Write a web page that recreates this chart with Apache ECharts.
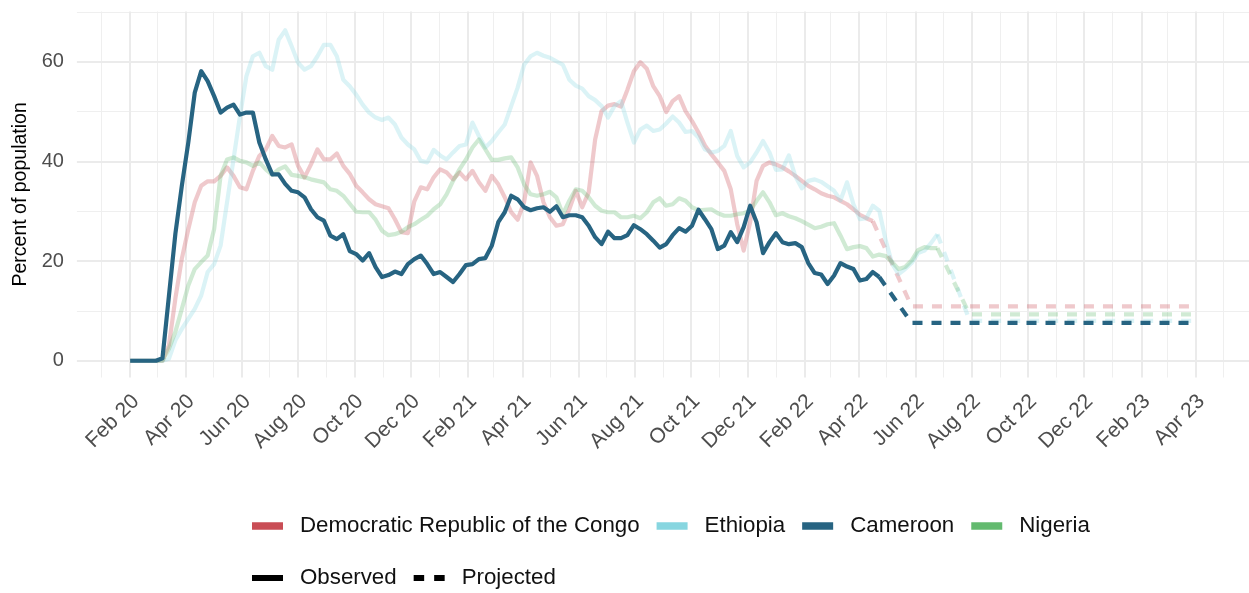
<!DOCTYPE html>
<html>
<head>
<meta charset="utf-8">
<script src="https://cdn.jsdelivr.net/npm/echarts@6/dist/echarts.min.js"></script>
<style>html,body{margin:0;padding:0;background:#fff}#chart{width:1249px;height:593px}</style>
</head>
<body>
<div id="chart"></div>
<script>
// ---------------- DATA ----------------
const countries = ['Democratic Republic of the Congo', 'Ethiopia', 'Cameroon', 'Nigeria'];
const countryColors = ['#C94D55', '#87D6E0', '#276482', '#63BA6F'];

// Observed series: one value per week starting at this date
const observedStart = '2020-02-01';

const drcObserved = [0,0,0,0,0,0,3.1,12.5,20.5,26.4,31.8,35.1,36,36,37.1,38.8,37.1,34.8,34.4,38.1,
  41.1,42.4,45.1,43.1,42.8,43.4,39.1,36.8,39.4,42.4,40.4,40.4,41.6,39.1,37.5,35.1,33.8,32.4,31.4,31.0,
  30.6,28.4,25.8,25.6,32.0,34.8,34.4,36.8,38.4,37.8,36.4,37.8,36.4,38.1,35.8,34.1,37.1,35.4,32.8,29.8,
  28.3,31.8,39.8,37.1,31.8,28.8,27.1,27.4,30.4,34.1,30.8,33.8,44.4,50.1,51.2,51.5,51.0,54.4,58.1,59.9,
  58.6,55.1,53.1,49.9,52.1,53.1,50.1,48.1,45.8,43.2,41.4,39.8,38.1,34.4,27.4,22.1,27.8,36.1,39.1,39.8,
  39.4,38.8,38.0,37.1,36.1,35.1,34.4,33.6,33.1,32.8,32.1,31.4,30.4,29.3,28.6,28.0];

const ethiopiaObserved = [0,0,0,0,0,0,0.4,4.1,6.4,8.4,10.4,13.1,17.8,19.4,23.1,31.8,40.4,49.1,57.1,61.1,
  61.8,59.1,58.4,64.4,66.3,63.1,59.8,58.4,59.1,61.1,63.4,63.4,61.1,56.4,55.1,53.4,51.4,49.8,48.8,48.3,
  48.8,47.4,44.8,43.4,42.4,40.1,39.8,42.3,41.2,40.4,41.8,43.1,43.4,47.8,45.1,42.8,44.1,45.8,47.4,51.1,
  54.8,59.4,61.1,61.8,61.2,60.8,60.1,59.4,56.4,55.2,54.6,53.1,52.3,51.1,48.8,51.1,52.1,47.8,43.8,46.4,
  47.2,46.1,46.4,47.6,49.0,47.8,45.9,46.1,44.8,42.4,41.8,42.1,43.1,46.1,41.1,38.8,39.8,41.8,44.1,41.8,
  38.3,38.4,41.2,37.0,34.6,36.1,36.4,35.9,35.0,34.1,32.2,35.8,31.4,28.4,28.6,31.1,30.1,24.1,19.4,17.4,
  18.4,19.6,21.6,22.1,23.6,25.4];

const cameroonObserved = [0,0,0,0,0,0.5,13,25.5,35.1,43.8,53.8,58.1,56.1,53.1,49.8,50.8,51.4,49.4,49.8,49.8,
  43.8,40.4,37.4,37.4,35.5,34.1,33.8,32.8,30.4,28.8,28.1,25.1,24.4,25.4,22.0,21.4,20.1,21.6,18.8,16.8,
  17.2,17.9,17.4,19.4,20.4,21.1,19.4,17.4,17.8,16.8,15.8,17.4,19.2,19.4,20.4,20.6,23.1,27.8,29.8,33.1,
  32.4,30.8,30.2,30.6,30.8,29.9,31.0,28.8,29.2,29.2,28.8,27.1,24.8,23.4,25.9,24.6,24.6,25.2,27.2,26.4,
  25.4,24.1,22.7,23.4,25.2,26.6,25.9,27.1,30.3,28.4,26.4,22.4,23.1,25.8,23.8,26.8,31.1,27.8,21.6,23.8,
  25.6,23.8,23.4,23.6,22.8,19.6,17.6,17.3,15.4,17.1,19.6,18.9,18.4,16.1,16.4,17.8,16.8];

const nigeriaObserved = [0,0,0,0,0,0,2.4,5.8,10.4,15.1,18.4,19.8,21.1,26.4,37.1,40.4,40.8,40.1,39.8,39.1,
  39.8,38.4,37.3,38.4,39.0,37.3,37.1,36.8,36.4,36.1,35.8,34.4,34.1,33.1,31.5,29.9,29.8,29.8,28.3,26.1,
  25.2,25.4,25.9,26.8,27.4,28.3,29.1,30.4,31.4,33.4,36.1,38.4,40.4,42.8,44.4,42.4,40.3,40.3,40.6,40.8,
  38.8,35.4,33.4,33.1,33.4,33.9,32.8,29.4,32.1,34.4,34.1,32.8,31.1,30.1,29.8,29.8,28.8,28.8,29.1,28.6,
  29.8,31.8,32.6,31.1,31.4,32.6,32.1,30.8,30.2,30.3,30.4,29.6,29.1,29.1,29.4,29.6,30.1,32.1,33.8,31.8,
  29.2,29.6,29.0,28.6,28.0,27.3,26.6,26.9,27.4,27.6,25.1,22.4,22.8,23.0,22.6,20.9,21.3,21.0,19.8,18.4,
  18.8,20.1,22.2,22.8,22.6,22.6];

// Projected series (dates / values)
const drcProjectedDates = ['2022-04-16', '2022-05-28', '2023-04-01'];
const drcProjected = [28.0, 10.9, 10.9];
const ethiopiaProjectedDates = ['2022-06-25', '2022-07-30', '2023-04-01'];
const ethiopiaProjected = [25.4, 8.0, 8.0];
const cameroonProjectedDates = ['2022-04-23', '2022-05-28', '2023-04-01'];
const cameroonProjected = [16.8, 7.6, 7.6];
const nigeriaProjectedDates = ['2022-06-25', '2022-07-30', '2023-04-01'];
const nigeriaProjected = [22.6, 9.3, 9.3];

// Axis ticks
const xTickDates = ['2020-02-01','2020-04-01','2020-06-01','2020-08-01','2020-10-01','2020-12-01',
  '2021-02-01','2021-04-01','2021-06-01','2021-08-01','2021-10-01','2021-12-01',
  '2022-02-01','2022-04-01','2022-06-01','2022-08-01','2022-10-01','2022-12-01','2023-02-01','2023-04-01'];
const xTickLabels = ['Feb 20','Apr 20','Jun 20','Aug 20','Oct 20','Dec 20','Feb 21','Apr 21','Jun 21','Aug 21',
  'Oct 21','Dec 21','Feb 22','Apr 22','Jun 22','Aug 22','Oct 22','Dec 22','Feb 23','Apr 23'];
const xMinorDates = ['2020-01-01','2020-03-01','2020-05-01','2020-07-01','2020-09-01','2020-11-01',
  '2021-01-01','2021-03-01','2021-05-01','2021-07-01','2021-09-01','2021-11-01',
  '2022-01-01','2022-03-01','2022-05-01','2022-07-01','2022-09-01','2022-11-01',
  '2023-01-01','2023-03-01','2023-05-01'];
const yTickValues = [0, 20, 40, 60];
const yMinorValues = [10, 30, 50, 70];
const yTitle = 'Percent of population';
const lineTypeNames = ['Observed', 'Projected'];

// ---------------- HELPERS ----------------
const DAY = 86400000;
function utc(s) { const p = s.split('-').map(Number); return Date.UTC(p[0], p[1] - 1, p[2]); }
const t0 = utc(observedStart);
function weekly(values) { return values.map((v, i) => [t0 + i * 7 * DAY, v]); }
function paired(dates, values) { return dates.map((d, i) => [utc(d), values[i]]); }
function rgba(hex, a) {
  const n = parseInt(hex.slice(1), 16);
  return 'rgba(' + ((n >> 16) & 255) + ',' + ((n >> 8) & 255) + ',' + (n & 255) + ',' + a + ')';
}
const tickLabelMap = {};
xTickDates.forEach((d, i) => { tickLabelMap[utc(d)] = xTickLabels[i]; });

const FONT = 'Liberation Sans, Arial, Helvetica, sans-serif';
const xMin = utc(xTickDates[0]) - 57.75 * DAY;
const xMax = utc(xTickDates[xTickDates.length - 1]) + 57.75 * DAY;

const observedSets = [drcObserved, ethiopiaObserved, cameroonObserved, nigeriaObserved];
const projectedSets = [
  [drcProjectedDates, drcProjected],
  [ethiopiaProjectedDates, ethiopiaProjected],
  [cameroonProjectedDates, cameroonProjected],
  [nigeriaProjectedDates, nigeriaProjected]
];

const series = [];
// gridlines
const gridMajor = { color: '#EBEBEB', width: 2, type: 'solid' };
const gridMinor = { color: '#EFEFEF', width: 1.1, type: 'solid' };
series.push({
  type: 'line', name: '__grid', data: [], silent: true, z: 0, animation: false,
  markLine: {
    silent: true, animation: false, z: 0, zlevel: 0, symbol: ['none', 'none'], label: { show: false },
    emphasis: { disabled: true },
    data: [].concat(
      xMinorDates.map(d => ({ xAxis: utc(d), lineStyle: gridMinor })),
      yMinorValues.map(v => ({ yAxis: v, lineStyle: gridMinor })),
      xTickDates.map(d => ({ xAxis: utc(d), lineStyle: gridMajor })),
      yTickValues.map(v => ({ yAxis: v, lineStyle: gridMajor }))
    )
  }
});

const drawOrder = [0, 1, 3, 2]; // Cameroon drawn last (on top)
drawOrder.forEach(k => {
  const name = countries[k];
  const col = countryColors[k];
  const isMain = name === 'Cameroon';
  const lineCol = isMain ? col : rgba(col, 0.3);
  series.push({
    type: 'line', name: name, data: weekly(observedSets[k]),
    symbol: 'none', showSymbol: false, silent: true, animation: false, z: isMain ? 6 : 3,
    itemStyle: { color: col },
    lineStyle: { color: lineCol, width: 4.2, join: 'round', cap: 'butt' }
  });
  series.push({
    type: 'line', name: name + ' projected', data: paired(projectedSets[k][0], projectedSets[k][1]),
    symbol: 'none', showSymbol: false, silent: true, animation: false, z: isMain ? 6 : 3,
    itemStyle: { color: col },
    lineStyle: { color: lineCol, width: 4.2, type: [10, 9], join: 'round', cap: 'butt' }
  });
});
lineTypeNames.forEach(n => {
  series.push({ type: 'line', name: n, data: [], itemStyle: { color: '#000' }, lineStyle: { color: '#000' } });
});

const option = {
  animation: false,
  backgroundColor: '#ffffff',
  grid: { left: 76.9, top: 11.4, width: 1174.8, height: 366 },
  xAxis: {
    type: 'value', min: xMin, max: xMax,
    axisLine: { show: false }, axisTick: { show: false }, splitLine: { show: false },
    axisLabel: {
      customValues: xTickDates.map(utc),
      formatter: v => tickLabelMap[v] || '',
      rotate: 45, margin: 15, align: 'right', verticalAlign: 'top', lineHeight: 16,
      fontFamily: FONT, fontSize: 21, color: '#4D4D4D'
    }
  },
  yAxis: {
    type: 'value', min: -3.34, max: 70.1,
    name: yTitle, nameLocation: 'middle', nameGap: 43,
    nameTextStyle: { fontFamily: FONT, fontSize: 19.5, color: '#000' },
    axisLine: { show: false }, axisTick: { show: false }, splitLine: { show: false },
    axisLabel: {
      customValues: yTickValues, margin: 13,
      fontFamily: FONT, fontSize: 20, color: '#4D4D4D'
    }
  },
  legend: [
    {
      left: 252, top: 513, padding: 0, orient: 'horizontal', selectedMode: false,
      itemWidth: 31, itemHeight: 7.5, itemGap: 17,
      textStyle: { fontFamily: FONT, fontSize: 22.3, color: '#111', lineHeight: 26, padding: [0, 0, 0, 12] },
      data: countries.map((c, i) => ({ name: c, icon: 'rect', itemStyle: { color: countryColors[i] } }))
    },
    {
      left: 252, top: 565, padding: 0, orient: 'horizontal', selectedMode: false,
      itemWidth: 31, itemHeight: 6, itemGap: 17,
      textStyle: { fontFamily: FONT, fontSize: 22.3, color: '#111', lineHeight: 26, padding: [0, 0, 0, 12] },
      data: [
        { name: lineTypeNames[0], icon: 'rect', itemStyle: { color: '#000' } },
        { name: lineTypeNames[1], icon: 'path://M0,0H10.5V6H0Z M20.5,0H31V6H20.5Z', itemStyle: { color: '#000' } }
      ]
    }
  ],
  series: series
};

const chart = echarts.init(document.getElementById('chart'), null, { renderer: 'canvas' });
chart.setOption(option);
</script>
</body>
</html>
